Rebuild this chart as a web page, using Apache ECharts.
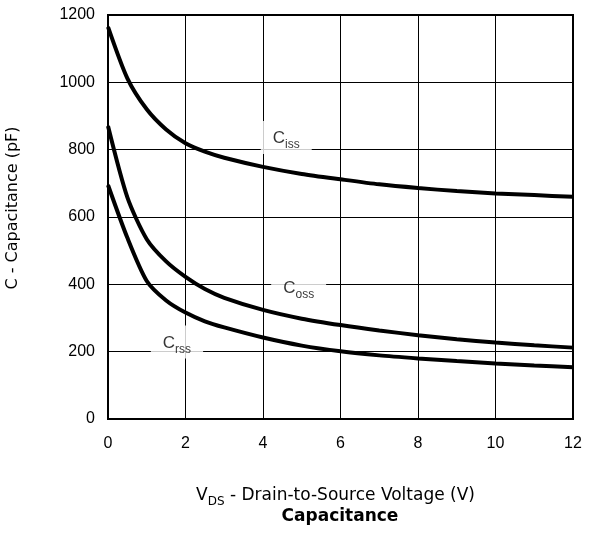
<!DOCTYPE html>
<html><head><meta charset="utf-8">
<script src="https://cdn.jsdelivr.net/npm/echarts@6/dist/echarts.min.js"></script>
<style>html,body{margin:0;padding:0;background:#fff}#c{width:601px;height:536px}</style>
</head><body><div id="c"></div>
<script>
const vds = [0, 0.5, 1, 1.5, 2, 2.5, 3, 4, 5, 6, 7, 8, 9, 10, 11, 12];
const ciss = [1165, 1012, 920, 860, 819, 794, 776, 749, 728, 712, 697, 686, 677, 670, 665, 660];
const coss = [870, 658, 534, 468, 422, 386, 360, 324, 298, 279, 263, 249, 237, 227, 219, 212];
const crss = [695, 538, 410, 352, 316, 290, 272, 242, 218, 201, 189, 180, 172, 165, 159, 154];
const xTicks = [0, 2, 4, 6, 8, 10, 12];
const yTicks = [0, 200, 400, 600, 800, 1000, 1200];
const labels = [
  {main: 'C', sub: 'iss', v: 4.6, c: 836},
  {main: 'C', sub: 'oss', v: 4.92, c: 392},
  {main: 'C', sub: 'rss', v: 1.78, c: 229}
];
const FONT = 'Liberation Sans, Arial, Helvetica, sans-serif';
const WFONT = 'DejaVu Sans, sans-serif';
const chart = echarts.init(document.getElementById('c'));
function ser(name, arr) {
  return {
    name, type: 'line', smooth: 0.25, symbol: 'none',
    data: vds.map((v, i) => [v, arr[i]]),
    lineStyle: {color: '#000', width: 4}, z: 3
  };
}
const series = [ser('Ciss', ciss), ser('Coss', coss), ser('Crss', crss)];
series.push({
  type: 'scatter', data: labels.map(l => [l.v, l.c]), symbolSize: 0, z: 10,
  label: {
    show: true, position: 'inside',
    formatter: p => '{m|' + labels[p.dataIndex].main + '}{s|' + labels[p.dataIndex].sub + '}',
    backgroundColor: '#fff', padding: [7, 12, 7, 12],
    rich: {
      m: {fontFamily: FONT, fontSize: 17, color: '#000', verticalAlign: 'bottom', lineHeight: 19},
      s: {fontFamily: FONT, fontSize: 12, color: '#000', verticalAlign: 'bottom', lineHeight: 14, padding: [0,0,-4,0]}
    }
  }
});
chart.setOption({
  animation: false,
  backgroundColor: '#fff',
  grid: {left: 108, right: 28, top: 15, bottom: 117, show: true, borderColor: '#000', borderWidth: 2,
    backgroundColor: 'transparent', containLabel: false, outerBoundsMode: 'none'},
  title: {text: 'Capacitance', left: 340, textAlign: 'center', top: 508, padding: 0,
    textStyle: {fontFamily: WFONT, fontSize: 17, fontWeight: 'bold', color: '#000'}},
  xAxis: {
    type: 'value', min: 0, max: 12, interval: 2,
    axisLine: {show: false}, axisTick: {show: false},
    splitLine: {show: true, lineStyle: {color: '#000', width: 1}},
    axisLabel: {fontFamily: FONT, fontSize: 16, color: '#000', margin: 17,
      formatter: v => xTicks.includes(v) ? String(v) : ''},
    name: '{m|V}{s|DS}{m| - Drain-to-Source Voltage (V)}', nameLocation: 'middle', nameGap: 66,
    nameTextStyle: {padding: [0, 10, 0, 0], rich: {
      m: {fontFamily: WFONT, fontSize: 17, color: '#000', verticalAlign: 'bottom', lineHeight: 19},
      s: {fontFamily: WFONT, fontSize: 12, color: '#000', verticalAlign: 'bottom', lineHeight: 14, padding: [0,0,-4,0]}
    }}
  },
  yAxis: {
    type: 'value', min: 0, max: 1200, interval: 200,
    axisLine: {show: false}, axisTick: {show: false},
    splitLine: {show: true, lineStyle: {color: '#000', width: 1}},
    axisLabel: {fontFamily: FONT, fontSize: 16, color: '#000', margin: 13,
      formatter: v => yTicks.includes(v) ? String(v) : ''},
    name: 'C - Capacitance (pF)', nameLocation: 'middle', nameGap: 87, nameRotate: 90,
    nameTextStyle: {fontFamily: WFONT, fontSize: 16, color: '#000', padding: [0, 0, 0, 18]}
  },
  series
});
</script></body></html>
